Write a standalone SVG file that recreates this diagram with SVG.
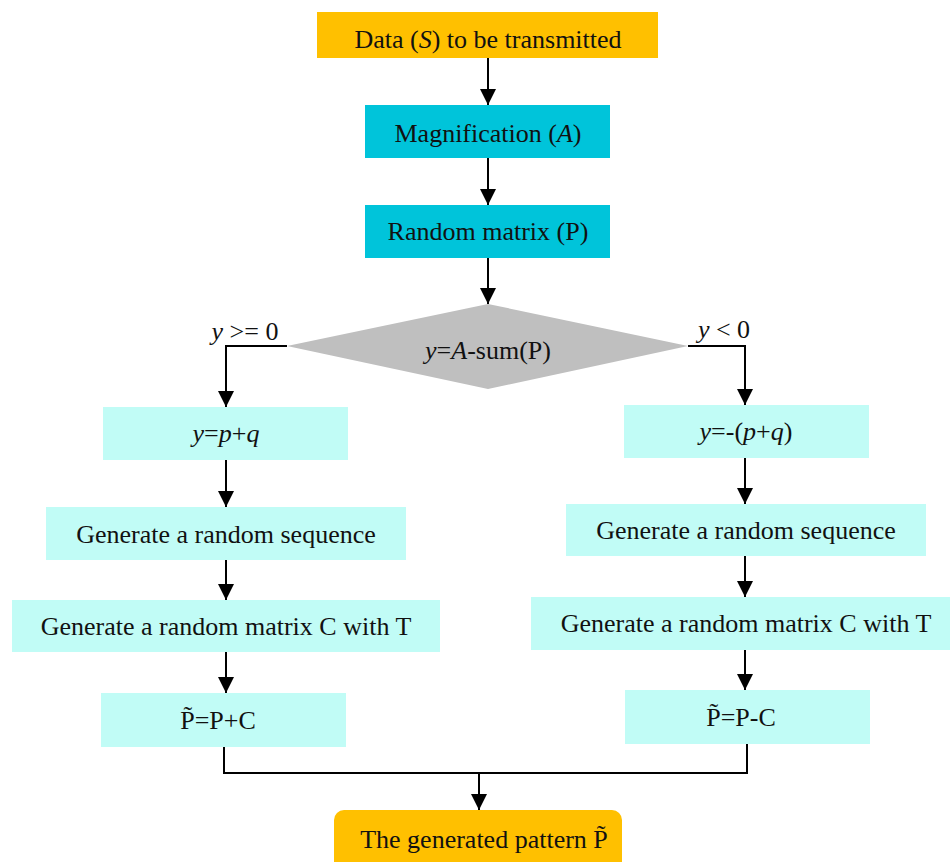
<svg xmlns="http://www.w3.org/2000/svg" width="952" height="862" viewBox="0 0 952 862">
<style>
text{font-family:"Liberation Serif","Times New Roman",serif;font-size:26px;fill:#111;text-anchor:middle}
.i{font-style:italic}
.gold{fill:#FFC000}
.cyan{fill:#00C4DA}
.lc{fill:#C1FCF6}
.c{fill:none;stroke:#000;stroke-width:2}
</style>
<defs>
<marker id="ah" markerWidth="16" markerHeight="16" viewBox="0 0 16 16" refX="16" refY="8" orient="auto" markerUnits="userSpaceOnUse">
<path d="M0,0 L16,8 L0,16 Z" fill="#000"/>
</marker>
</defs>
<rect width="952" height="862" fill="#fff"/>
<g id="connectors">
<path class="c" d="M488,58 V105" marker-end="url(#ah)"/>
<path class="c" d="M488,158 V205" marker-end="url(#ah)"/>
<path class="c" d="M488,258 V304" marker-end="url(#ah)"/>
<path class="c" d="M287,346 H226 V407" marker-end="url(#ah)"/>
<path class="c" d="M688,346 H745 V405" marker-end="url(#ah)"/>
<path class="c" d="M226,460 V507" marker-end="url(#ah)"/>
<path class="c" d="M226,560 V600" marker-end="url(#ah)"/>
<path class="c" d="M226,652 V693" marker-end="url(#ah)"/>
<path class="c" d="M745,458 V504" marker-end="url(#ah)"/>
<path class="c" d="M745,556 V597" marker-end="url(#ah)"/>
<path class="c" d="M745,650 V690" marker-end="url(#ah)"/>
<path class="c" d="M224,747 V773 H747 V744"/>
<path class="c" d="M479,773 V810" marker-end="url(#ah)"/>
<text x="245" y="340"><tspan class="i">y</tspan> &gt;= 0</text>
<text x="724" y="338"><tspan class="i">y</tspan> &lt; 0</text>
</g>
<g id="n_data"><rect class="gold" x="317" y="12" width="341" height="46"/><text x="488" y="48">Data (<tspan class="i">S</tspan>) to be transmitted</text></g>
<g id="n_mag"><rect class="cyan" x="365" y="105" width="245" height="53"/><text x="488" y="142">Magnification (<tspan class="i">A</tspan>)</text></g>
<g id="n_rand"><rect class="cyan" x="365" y="205" width="245" height="53"/><text x="488" y="240">Random matrix (P)</text></g>
<g id="n_dec"><polygon points="488,304 688,346 488,389 287,346" fill="#BFBFBF"/><text x="488" y="359"><tspan class="i">y</tspan>=<tspan class="i">A</tspan>-sum(P)</text></g>
<g id="n_l1"><rect class="lc" x="103" y="407" width="245" height="53"/><text x="226" y="442"><tspan class="i">y</tspan>=<tspan class="i">p</tspan>+<tspan class="i">q</tspan></text></g>
<g id="n_l2"><rect class="lc" x="46" y="507" width="360" height="53"/><text x="226" y="543">Generate a random sequence</text></g>
<g id="n_l3"><rect class="lc" x="12" y="600" width="428" height="52"/><text x="226" y="635">Generate a random matrix C with T</text></g>
<g id="n_l4"><rect class="lc" x="101" y="693" width="245" height="54"/><text x="218" y="729">P&#x303;=P+C</text></g>
<g id="n_r1"><rect class="lc" x="624" y="405" width="245" height="53"/><text x="746" y="440"><tspan class="i">y</tspan>=-(<tspan class="i">p</tspan>+<tspan class="i">q</tspan>)</text></g>
<g id="n_r2"><rect class="lc" x="566" y="504" width="360" height="52"/><text x="746" y="539">Generate a random sequence</text></g>
<g id="n_r3"><rect class="lc" x="531" y="597" width="419" height="53"/><text x="746" y="632">Generate a random matrix C with T</text></g>
<g id="n_r4"><rect class="lc" x="625" y="690" width="245" height="54"/><text x="741" y="726">P&#x303;=P-C</text></g>
<g id="n_out"><rect class="gold" x="334" y="810" width="288" height="70" rx="10"/><text x="484" y="848">The generated pattern P&#x303;</text></g>
</svg>
